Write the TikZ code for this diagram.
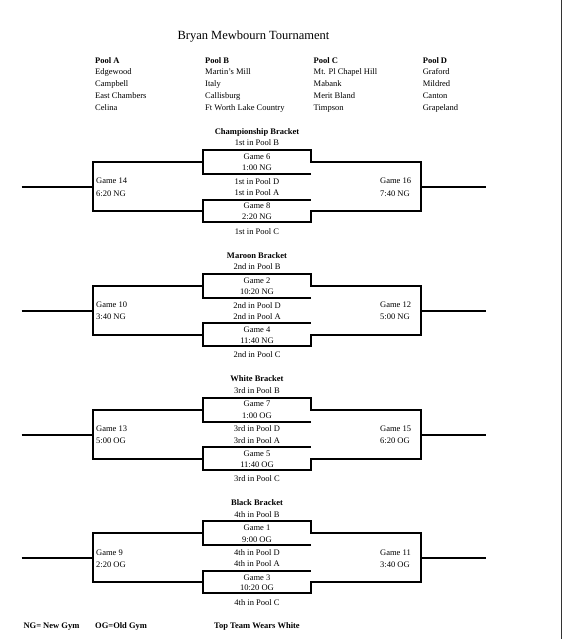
\documentclass[tikz,border=0pt]{standalone}
\usepackage{fontspec}
\setmainfont{Liberation Serif}
\tikzset{
  txt/.style={font=\fontsize{8.5}{10}\selectfont, inner sep=0pt, anchor=base},
  txtl/.style={txt, anchor=base west},
  txtb/.style={txt, font=\fontsize{8.5}{10}\selectfont\bfseries},
  txtbl/.style={txtb, anchor=base west},
  brk/.style={line width=2pt, line join=miter},
}
% #1 name, #2 style, #3 x, #4 baseline y, #5 line 1, #6 line 2, #7 gap
\newcommand\twoline[7]{%
  \node[#2] (#1-1) at (#3,#4) {#5};
  \node[#2] (#1-2) at (#3,{#4+#7}) {#6};}
% #1 y offset, #2 prefix, #3 title, #4 rank, #5 top game, #6 bottom game, #7 left game, #8 right game
\newcommand\bracketblock[8]{%
  \begin{scope}[shift={(0,#1)}]
    \coordinate (#2-s0) at (21.7,187);
    \coordinate (#2-s1) at (92.7,187);
    \coordinate (#2-lt) at (92.7,162);
    \coordinate (#2-lb) at (92.7,211);
    \coordinate (#2-ajoin) at (202.7,162);
    \coordinate (#2-bjoin) at (202.7,211);
    \coordinate (#2-atl) at (202.7,150);
    \coordinate (#2-atr) at (311,150);
    \coordinate (#2-abl) at (202.7,174);
    \coordinate (#2-abr) at (311,174);
    \coordinate (#2-aout) at (311,162);
    \coordinate (#2-btl) at (202.7,199.5);
    \coordinate (#2-btr) at (311,199.5);
    \coordinate (#2-bbl) at (202.7,222);
    \coordinate (#2-bbr) at (311,222);
    \coordinate (#2-bout) at (311,211);
    \coordinate (#2-rt) at (421,162);
    \coordinate (#2-rb) at (421,211);
    \coordinate (#2-r0) at (421,187);
    \coordinate (#2-r1) at (485.5,187);
    % left half
    \draw[brk] (#2-s0) -- (#2-s1);
    \draw[brk] (#2-ajoin) -- (#2-lt) -- (#2-lb) -- (#2-bjoin);
    % game boxes and right half
    \draw[brk] (#2-abr) -- (#2-abl) -- (#2-atl) -- (#2-atr) -- (#2-aout)
      -- (#2-rt) -- (#2-rb) -- (#2-bout) -- (#2-bbr) -- (#2-bbl) -- (#2-btl) -- (#2-btr);
    \draw[brk] (#2-r0) -- (#2-r1);
    % texts
    \node[txtb] (#2-title) at (257,134.3) {#3};
    \node[txt] (#2-rb1) at (257,145.7) {#4 in Pool B};
    \twoline{#2-ga}{txt}{257}{159.3}#5{11.4}
    \node[txt] (#2-rd) at (257,184.2) {#4 in Pool D};
    \node[txt] (#2-ra) at (257,195.5) {#4 in Pool A};
    \twoline{#2-gb}{txt}{257}{208.9}#6{10.6}
    \node[txt] (#2-rc) at (257,234) {#4 in Pool C};
    \twoline{#2-gl}{txtl}{96}{183.8}#7{12.2}
    \twoline{#2-gr}{txtl}{380}{183.8}#8{12.2}
  \end{scope}}
\begin{document}
\begin{tikzpicture}[x=1pt,y=-1pt]
  \useasboundingbox (0,0) rectangle (563,639);
  \fill[white] (0,0) rectangle (563,639);
  \coordinate (edgeT) at (561.8,0);
  \coordinate (edgeB) at (561.8,639);
  \draw[line width=1pt, black!80] (edgeT) -- (edgeB);
  \node[font=\fontsize{12.5}{14}\selectfont, inner sep=0pt, anchor=base] (title) at (253.5,39.7) {Bryan Mewbourn Tournament};
  % pools
  \node[txtbl] (pa) at (95,63.3) {Pool A};
  \node[txtl] (pa1) at (95,75) {Edgewood};
  \node[txtl] (pa2) at (95,87) {Campbell};
  \node[txtl] (pa3) at (95,99) {East Chambers};
  \node[txtl] (pa4) at (95,110.7) {Celina};
  \node[txtbl] (pb) at (205,63.3) {Pool B};
  \node[txtl] (pb1) at (205,75) {Martin's Mill};
  \node[txtl] (pb2) at (205,87) {Italy};
  \node[txtl] (pb3) at (205,99) {Callisburg};
  \node[txtl] (pb4) at (205,110.7) {Ft Worth Lake Country};
  \node[txtbl] (pc) at (313.5,63.3) {Pool C};
  \node[txtl] (pc1) at (313.5,75) {Mt. Pl Chapel Hill};
  \node[txtl] (pc2) at (313.5,87) {Mabank};
  \node[txtl] (pc3) at (313.5,99) {Merit Bland};
  \node[txtl] (pc4) at (313.5,110.7) {Timpson};
  \node[txtbl] (pd) at (422.6,63.3) {Pool D};
  \node[txtl] (pd1) at (422.6,75) {Graford};
  \node[txtl] (pd2) at (422.6,87) {Mildred};
  \node[txtl] (pd3) at (422.6,99) {Canton};
  \node[txtl] (pd4) at (422.6,110.7) {Grapeland};
  % brackets
  \bracketblock{0}{ch}{Championship Bracket}{1st}{{Game 6}{1:00 NG}}{{Game 8}{2:20 NG}}{{Game 14}{6:20 NG}}{{Game 16}{7:40 NG}}
  \bracketblock{123.8}{ma}{Maroon Bracket}{2nd}{{Game 2}{10:20 NG}}{{Game 4}{11:40 NG}}{{Game 10}{3:40 NG}}{{Game 12}{5:00 NG}}
  \bracketblock{247.6}{wh}{White Bracket}{3rd}{{Game 7}{1:00 OG}}{{Game 5}{11:40 OG}}{{Game 13}{5:00 OG}}{{Game 15}{6:20 OG}}
  \bracketblock{371.4}{bl}{Black Bracket}{4th}{{Game 1}{9:00 OG}}{{Game 3}{10:20 OG}}{{Game 9}{2:20 OG}}{{Game 11}{3:40 OG}}
  % footer
  \node[txtbl] (ng) at (23.3,628.7) {NG= New Gym};
  \node[txtbl] (og) at (95,628.7) {OG=Old Gym};
  \node[txtbl] (tt) at (214,628.7) {Top Team Wears White};
\end{tikzpicture}
\end{document}
